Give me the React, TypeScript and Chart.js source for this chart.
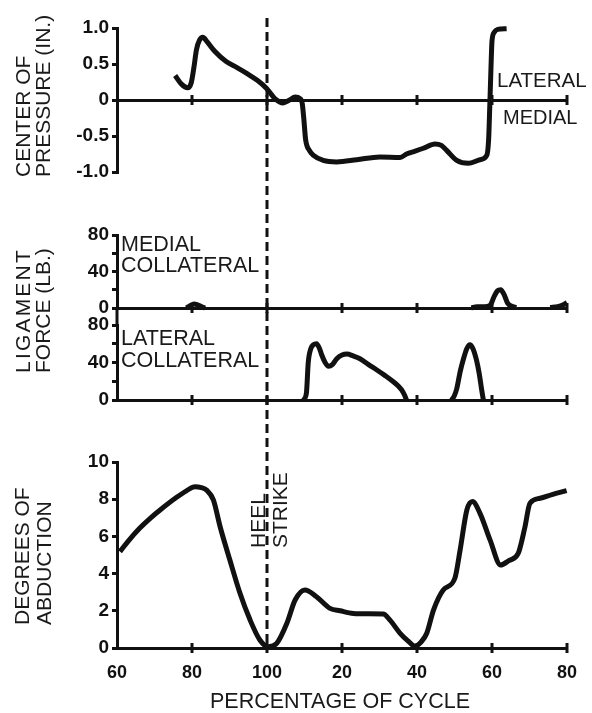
import React, { useEffect, useRef } from 'react';
import { Chart, registerables } from 'chart.js';

Chart.register(...registerables);

const INK = '#111111';
const TEXT = '#1a1a1a';
const FONT = "'Liberation Sans', Arial, Helvetica, sans-serif";

// ---------- shared x axis ----------
const X_MIN = 60;
const X_MAX = 180;
const X_TICK_VALUES = [60, 80, 100, 120, 140, 160, 180];
const X_TICK_LABELS = ['60', '80', '100', '20', '40', '60', '80'];
const HEEL_STRIKE_X = 100;

// ---------- center of pressure (in.) ----------
const COP_TICKS = [-1, -0.5, 0, 0.5, 1];
const COP_TICK_LABELS = ['-1.0', '-0.5', '0', '0.5', '1.0'];
const copX = [75.5, 77.2, 78.8, 79.8, 80.5, 81.2, 82.0, 82.9, 84.0, 86.0, 89.2, 92.0, 94.6, 97.5, 99.9, 102.1, 104.3, 106.0, 107.5, 108.8, 109.4, 109.8, 110.3, 111.3, 112.4, 115.0, 118.6, 123.9, 130.1, 135.5, 137.2, 139.5, 141.7, 144.8, 146.5, 147.9, 150.6, 153.7, 156.8, 158.6, 159.1, 159.4, 159.7, 160.0, 160.6, 161.5, 163.9];
const copY = [0.34, 0.22, 0.17, 0.24, 0.45, 0.70, 0.83, 0.87, 0.81, 0.68, 0.53, 0.45, 0.37, 0.27, 0.16, 0.02, -0.04, 0.0, 0.04, 0.02, -0.05, -0.25, -0.55, -0.70, -0.77, -0.84, -0.86, -0.83, -0.79, -0.80, -0.75, -0.71, -0.67, -0.61, -0.63, -0.70, -0.84, -0.88, -0.83, -0.77, -0.55, -0.10, 0.40, 0.82, 0.94, 0.98, 0.99];

// ---------- ligament force (lb.) ----------
const FORCE_TICKS = [0, 20, 40, 60, 80];
const FORCE_TICK_LABELS = ['0', '', '40', '', '80'];
const medialX = [78.5, 79.5, 80.5, 81.5, 82.5, 83.5, 90, 154.5, 156, 158, 159.5, 160.5, 161.5, 162.3, 163.2, 164.2, 165.5, 166.5, 170, 175.5, 177.5, 179, 180];
const medialY = [0, 2.5, 4.5, 3.5, 1.5, 0, null, 0, 1.5, 1.5, 3, 12, 19, 20, 15, 5, 1.5, 0.5, null, 0.5, 1.5, 3.5, 6];
const lateralX = [109.7, 110.5, 111.0, 111.7, 112.4, 113.2, 114.0, 114.6, 115.5, 116.4, 117.5, 118.6, 120.0, 121.3, 123.0, 124.8, 127.0, 129.3, 131.5, 133.7, 135.0, 135.9, 136.7, 137.2, 143, 149.2, 149.9, 150.6, 151.5, 152.4, 153.3, 154.1, 154.9, 155.9, 156.6, 157.2, 157.7];
const lateralY = [0, 7, 40, 55, 59, 60, 55, 48, 40, 36, 38, 44, 48, 49, 47, 44, 38, 32, 26, 19.5, 15, 10.7, 5, 0, null, 0, 4, 12, 30, 44, 55, 59, 55, 42, 28, 12, 0];

// ---------- degrees of abduction ----------
const ABD_TICKS = [0, 2, 4, 6, 8, 10];
const ABD_TICK_LABELS = ['0', '2', '4', '6', '8', '10'];
const abdX = [60.8, 63, 66.1, 69, 71.5, 75.9, 78.5, 80.8, 82.5, 83.9, 85.7, 87.5, 90.1, 92.8, 95.5, 98.1, 100.3, 102.6, 105.3, 107.5, 110.1, 113.2, 116.8, 119.5, 123, 127, 131, 132.8, 135.5, 137.5, 139.5, 141, 142.6, 144.4, 147, 150.1, 151.5, 153.3, 154.8, 156.8, 159.5, 162.3, 164.5, 167, 168.8, 170.1, 172.8, 176, 179.9];
const abdY = [5.18, 5.75, 6.45, 7.0, 7.42, 8.1, 8.45, 8.67, 8.62, 8.49, 7.96, 6.52, 4.73, 2.94, 1.5, 0.43, 0.07, 0.25, 1.33, 2.58, 3.12, 2.76, 2.13, 2.0, 1.86, 1.84, 1.83, 1.5, 0.79, 0.4, 0.1, 0.3, 0.79, 2.04, 3.12, 3.75, 5.27, 7.42, 7.87, 7.24, 5.8, 4.46, 4.7, 5.09, 6.52, 7.78, 8.05, 8.25, 8.46];

// ---------- texts ----------
const COP_TITLE = ['CENTER OF', 'PRESSURE (IN.)'];
const FORCE_TITLE = ['LIGAMENT', 'FORCE (LB.)'];
const ABD_TITLE = ['DEGREES OF', 'ABDUCTION'];
const HEEL_TEXT = ['HEEL', 'STRIKE'];
const MEDIAL_COLL = ['MEDIAL', 'COLLATERAL'];
const LATERAL_COLL = ['LATERAL', 'COLLATERAL'];
const X_TITLE = 'PERCENTAGE OF CYCLE';

const toPoints = (xs: number[], ys: (number | null)[]) => xs.map((x, i) => ({ x, y: ys[i] }));

const DASH_START = 18;
const DASH = [9, 5];

const decorPlugin = {
  id: 'decor',
  afterDatasetsDraw(chart: any, _a: any, o: any) {
    const { ctx, chartArea } = chart;
    const xs = chart.scales.x;
    const ys = chart.scales.y;
    ctx.save();
    ctx.strokeStyle = INK;
    ctx.lineWidth = 3;
    const y0 = ys.getPixelForValue(0);
    X_TICK_VALUES.forEach((v) => {
      if (v === X_MIN) return;
      const px = xs.getPixelForValue(v);
      ctx.beginPath();
      ctx.moveTo(px, y0 - 5);
      ctx.lineTo(px, y0 + 5);
      ctx.stroke();
    });
    if (o.axisFrom != null) {
      const ax = chartArea.left;
      ctx.beginPath();
      ctx.moveTo(ax, o.axisFrom - o.canvasTop);
      ctx.lineTo(ax, chartArea.top);
      ctx.stroke();
    }
    const hx = xs.getPixelForValue(HEEL_STRIKE_X);
    const period = DASH[0] + DASH[1];
    ctx.setLineDash(DASH);
    ctx.lineDashOffset = (o.dashFrom - DASH_START) % period;
    ctx.lineWidth = 3;
    ctx.beginPath();
    ctx.moveTo(hx, o.dashFrom - o.canvasTop);
    ctx.lineTo(hx, o.dashTo - o.canvasTop);
    ctx.stroke();
    ctx.restore();
  },
};

type PanelSpec = {
  canvasTop: number;
  height: number;
  padTop: number;
  padBottom: number;
  yMin: number;
  yMax: number;
  yTicks: number[];
  yLabels: string[];
  series: { x: number; y: number | null }[][];
  showXLabels: boolean;
  dashFrom: number;
  dashTo: number;
  axisFrom?: number;
};

function makeConfig(p: PanelSpec): any {
  return {
    type: 'line',
    data: {
      datasets: p.series.map((pts) => ({
        data: pts,
        borderColor: INK,
        borderWidth: 5,
        pointRadius: 0,
        cubicInterpolationMode: 'monotone',
        spanGaps: false,
        clip: false,
        fill: false,
      })),
    },
    options: {
      animation: false,
      responsive: false,
      devicePixelRatio: 1,
      events: [],
      layout: { padding: { top: p.padTop, bottom: p.padBottom, left: 0, right: 25 } },
      plugins: {
        legend: { display: false },
        tooltip: { enabled: false },
        decor: { canvasTop: p.canvasTop, dashFrom: p.dashFrom, dashTo: p.dashTo, axisFrom: p.axisFrom },
      },
      scales: {
        x: {
          type: 'linear',
          min: X_MIN,
          max: X_MAX,
          position: { y: 0 },
          afterBuildTicks: (s: any) => {
            s.ticks = X_TICK_VALUES.map((v) => ({ value: v }));
          },
          ticks: {
            display: p.showXLabels,
            autoSkip: false,
            maxRotation: 0,
            padding: 14,
            color: INK,
            font: { family: FONT, size: 18, weight: 'bold' },
            callback: (_v: any, i: number) => X_TICK_LABELS[i],
          },
          grid: { display: false, drawTicks: false },
          border: { display: true, width: 3, color: INK },
        },
        y: {
          type: 'linear',
          position: 'left',
          min: p.yMin,
          max: p.yMax,
          afterBuildTicks: (s: any) => {
            s.ticks = p.yTicks.map((v) => ({ value: v }));
          },
          afterFit: (s: any) => {
            s.width = 117;
          },
          ticks: {
            autoSkip: false,
            padding: 3,
            color: INK,
            font: { family: FONT, size: 19, weight: 'bold' },
            callback: (_v: any, i: number) => p.yLabels[i],
          },
          grid: { drawOnChartArea: false, drawTicks: true, tickLength: 5, lineWidth: 3, color: INK },
          border: { display: true, width: 3, color: INK },
        },
      },
    },
    plugins: [decorPlugin],
  };
}

function Panel({ spec }: { spec: PanelSpec }) {
  const ref = useRef<HTMLCanvasElement>(null);
  useEffect(() => {
    const chart = new Chart(ref.current as HTMLCanvasElement, makeConfig(spec));
    return () => chart.destroy();
  }, []);
  return (
    <canvas
      ref={ref}
      width={592}
      height={spec.height}
      style={{ position: 'absolute', left: 0, top: spec.canvasTop, width: 592, height: spec.height }}
    />
  );
}

const ASC = 0.905;
const CAP = 0.716;
const CONTENT = 1.117;

function HLabel({ x, baseline, fs, lh, lines, center }: { x: number; baseline: number; fs: number; lh: number; lines: string[]; center?: boolean }) {
  const top = baseline - ((lh - CONTENT * fs) / 2 + ASC * fs);
  return (
    <div
      style={{
        position: 'absolute',
        left: center ? x - 300 : x,
        width: center ? 600 : undefined,
        textAlign: center ? 'center' : 'left',
        top,
        fontFamily: FONT,
        fontSize: fs,
        lineHeight: `${lh}px`,
        color: TEXT,
        whiteSpace: 'nowrap',
      }}
    >
      {lines.map((l, i) => (
        <div key={i}>{l}</div>
      ))}
    </div>
  );
}

function VLabel({ capX, bottom, fs, lh, lines, spacing }: { capX: number; bottom: number; fs: number; lh: number; lines: string[]; spacing?: number[] }) {
  const left = capX - ((lh - CONTENT * fs) / 2 + (ASC - CAP) * fs);
  return (
    <div
      style={{
        position: 'absolute',
        left,
        top: bottom,
        transformOrigin: '0 0',
        transform: 'rotate(-90deg)',
        fontFamily: FONT,
        fontSize: fs,
        lineHeight: `${lh}px`,
        color: TEXT,
        whiteSpace: 'nowrap',
      }}
    >
      {lines.map((l, i) => (
        <div key={i} style={{ letterSpacing: spacing ? spacing[i] : 0 }}>{l}</div>
      ))}
    </div>
  );
}

const PANELS: PanelSpec[] = [
  {
    canvasTop: 0, height: 210, padTop: 28, padBottom: 38,
    yMin: -1, yMax: 1, yTicks: COP_TICKS, yLabels: COP_TICK_LABELS,
    series: [toPoints(copX, copY)], showXLabels: false,
    dashFrom: 18, dashTo: 205,
  },
  {
    canvasTop: 205, height: 130, padTop: 30, padBottom: 27,
    yMin: 0, yMax: 80, yTicks: FORCE_TICKS, yLabels: FORCE_TICK_LABELS,
    series: [toPoints(medialX, medialY)], showXLabels: false,
    dashFrom: 205, dashTo: 300,
  },
  {
    canvasTop: 295, height: 140, padTop: 30, padBottom: 35,
    yMin: 0, yMax: 80, yTicks: FORCE_TICKS, yLabels: FORCE_TICK_LABELS,
    series: [toPoints(lateralX, lateralY)], showXLabels: false,
    dashFrom: 300, dashTo: 432, axisFrom: 308,
  },
  {
    canvasTop: 432, height: 281, padTop: 30, padBottom: 65,
    yMin: 0, yMax: 10, yTicks: ABD_TICKS, yLabels: ABD_TICK_LABELS,
    series: [toPoints(abdX, abdY)], showXLabels: true,
    dashFrom: 432, dashTo: 648,
  },
];

export default function App() {
  return (
    <div style={{ position: 'fixed', left: 0, top: 0, width: 592, height: 713, background: '#ffffff', overflow: 'hidden' }}>
      {PANELS.map((s, i) => (
        <Panel key={i} spec={s} />
      ))}
      <VLabel capX={15} bottom={177} fs={21} lh={20} lines={COP_TITLE} />
      <VLabel capX={15} bottom={373} fs={21} lh={20} lines={FORCE_TITLE} spacing={[2.2, 0]} />
      <VLabel capX={14} bottom={625} fs={21} lh={22} lines={ABD_TITLE} />
      <VLabel capX={250} bottom={548} fs={21} lh={22} lines={HEEL_TEXT} />
      <HLabel x={497} baseline={87} fs={20.5} lh={20} lines={['LATERAL']} />
      <HLabel x={503} baseline={124} fs={20} lh={20} lines={['MEDIAL']} />
      <HLabel x={121} baseline={252} fs={21.5} lh={21} lines={MEDIAL_COLL} />
      <HLabel x={121} baseline={345} fs={21.5} lh={22} lines={LATERAL_COLL} />
      <HLabel x={340} baseline={708} fs={21.5} lh={22} lines={[X_TITLE]} center />
    </div>
  );
}
